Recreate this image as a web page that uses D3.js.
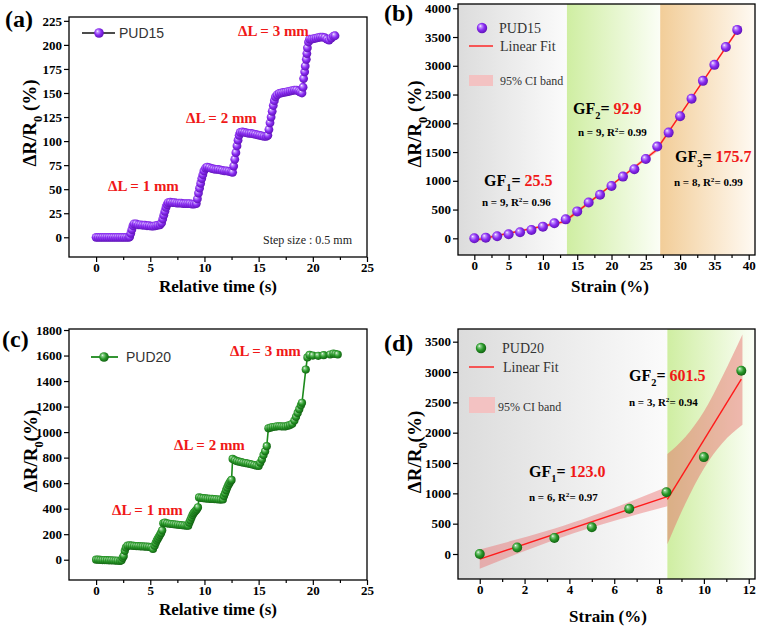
<!DOCTYPE html>
<html><head><meta charset="utf-8">
<script src="https://cdn.jsdelivr.net/npm/d3@7"></script>
<style>body{margin:0;background:#fff}svg{display:block}</style>
</head><body>
<svg id="chart" width="764" height="628"></svg>
<script>
// ---------------- DATA ----------------
// (a) PUD15 step response
const aTime = [0,0.2,0.4,0.6,0.8,1.0,1.2,1.4,1.6,1.8,2.0,2.2,2.4,2.6,2.8,3.0,3.1,
 3.2,3.3,3.4,3.5,
 3.7,3.9,4.1,4.3,4.5,4.7,4.9,5.1,5.3,5.5,5.7,5.9,
 6.05,6.15,6.25,6.35,6.45,6.55,6.65,
 6.85,7.05,7.25,7.45,7.65,7.85,8.05,8.25,8.45,8.65,8.85,9.05,9.25,
 9.35,9.45,9.55,9.65,9.75,9.85,9.95,10.1,10.25,
 10.45,10.65,10.85,11.05,11.25,11.45,11.65,11.85,12.05,12.25,12.45,12.6,
 12.7,12.8,12.9,13.0,13.1,13.2,13.3,
 13.5,13.7,13.9,14.1,14.3,14.5,14.7,14.9,15.1,15.3,15.5,15.7,15.85,
 15.95,16.05,16.15,16.25,16.35,16.45,16.55,16.7,
 16.9,17.1,17.3,17.5,17.7,17.9,18.1,18.3,18.5,18.7,18.85,19.0,
 19.1,19.15,19.25,19.3,19.4,19.45,19.5,19.6,19.7,
 19.9,20.1,20.3,20.5,20.7,20.9,21.1,21.3,21.5,21.7,21.9,22.05];
const aValue = [0,0,0,0,0,0,0,0,0,0,0,0,0,0,0,0,0.5,
 4,8,12,14,
 14,13,13,12.5,12.5,12,12,11.5,11.5,12,12.5,13,
 15,19,23,27,31,34,36,
 36.5,36,36,35.5,35.5,35.5,35,35,35,35,34.5,34.5,35,
 40,46,51,56,61,65,69,72,73,
 72.5,71.5,71,70.5,70.5,70,69.5,69,69,68.5,68,67.5,
 74,81,88,95,101,106,109,
 109.5,109,108.5,108,108,107.5,107,106.5,106,105.5,105,105,106,
 112,119,125,131,137,142,146,148,
 149.5,150,150.5,151,151.5,152,152.5,153,153,152,151,150,
 156,165,172,178,185,191,197,203,206,
 206,206.5,207,207.5,208,208,207.5,206,205,207,209,209.5];

// (c) PUD20 step response
const cTime = [0,0.2,0.4,0.6,0.8,1.0,1.2,1.4,1.6,1.8,2.0,2.2,2.35,
 2.45,2.55,2.65,2.75,
 2.9,3.1,3.3,3.5,3.7,3.9,4.1,4.3,4.5,4.7,4.9,5.1,5.25,
 5.4,5.5,5.6,5.7,5.8,5.9,6.0,6.1,6.2,
 6.35,6.55,6.75,6.95,7.15,7.35,7.55,7.75,7.95,8.15,8.35,8.5,
 8.6,8.7,8.8,8.9,9.0,9.1,9.2,9.3,9.4,
 9.5,9.7,9.9,10.1,10.3,10.5,10.7,10.9,11.1,11.3,11.5,11.7,
 11.8,11.9,12.0,12.1,12.2,12.3,12.4,12.5,
 12.6,12.8,13.0,13.2,13.4,13.6,13.8,14.0,14.2,14.4,14.6,14.8,15.0,
 15.15,15.3,15.45,15.6,15.75,
 15.9,16.1,16.3,16.5,16.7,16.9,17.1,17.3,17.5,17.7,17.9,18.1,
 18.3,18.45,18.6,18.75,18.9,19.0,
 19.35,19.5,19.7,
 20.0,20.5,21.0,21.6,21.9,22.1,22.3];
const cValue = [0,0,-2,-3,-3,-4,-5,-5,-6,-7,-8,-10,-5,
 15,30,70,95,
 110,112,110,108,107,106,105,104,103,102,100,97,84,
 110,130,150,165,180,195,210,230,285,
 290,285,282,280,278,276,274,272,270,268,266,266,
 290,310,330,350,365,375,385,395,410,
 488,484,482,480,478,477,476,475,474,472,471,472,
 500,520,545,565,585,600,615,625,
 790,780,772,768,764,760,757,754,750,746,742,738,735,
 760,785,820,850,890,
 1030,1035,1040,1042,1045,1046,1045,1044,1045,1050,1055,1065,
 1090,1120,1150,1180,1210,1230,
 1490,1585,1605,
 1600,1598,1603,1608,1615,1612,1608];

// (b) PUD15 strain response
const bStrain = [0,1.67,3.33,5,6.67,8.33,10,11.67,13.33,15,16.67,18.33,20,21.67,23.33,25,26.67,28.33,30,31.67,33.33,35,36.67,38.33];
const bValue  = [0,12,35,70,104,145,203,261,330,468,622,756,910,1073,1202,1378,1595,1838,2122,2428,2738,3016,3325,3624];
const bSegments = [[0,8],[8,16],[16,23]];      // index ranges of each linear fit
const bTcrit = [2.365, 2.365, 2.447];           // t(0.975, n-2)
const bRegionEdges = [13.5, 27.1];

// (d) PUD20 strain response
const dStrain = [0,1.67,3.33,5,6.67,8.33,10,11.67];
const dValue  = [0,108,265,440,745,1018,1597,3022];
const dSegments = [[0,5],[5,7]];
const dTcrit1 = 2.776;
const dRegionEdges = [8.37];
const dBand2X  = [8.37, 9.17, 10, 10.83, 11.72];
const dBand2Lo = [160, 830, 1410, 1830, 2130];
const dBand2Hi = [1650, 1930, 2350, 2930, 3620];

// ticks
const aXTicks = [0,5,10,15,20,25], aXMinor = [2.5,7.5,12.5,17.5,22.5];
const aYTicks = [0,25,50,75,100,125,150,175,200,225];
const cYTicks = [0,200,400,600,800,1000,1200,1400,1600,1800];
const bXTicks = [0,5,10,15,20,25,30,35,40], bXMinor = [2.5,7.5,12.5,17.5,22.5,27.5,32.5,37.5];
const bYTicks = [0,500,1000,1500,2000,2500,3000,3500,4000];
const dXTicks = [0,2,4,6,8,10,12], dXMinor = [1,3,5,7,9,11];
const dYTicks = [0,500,1000,1500,2000,2500,3000,3500];

// ---------------- DRAWING ----------------
const SERIF = "'Liberation Serif','Times New Roman',serif";
const SANS = "'Liberation Sans',Arial,sans-serif";
const RED = "#f01818";
const svg = d3.select("#chart");
const defs = svg.append("defs");

function sphereGrad(id, light, base, dark) {
  const g = defs.append("radialGradient").attr("id", id)
    .attr("cx","45%").attr("cy","45%").attr("r","60%").attr("fx","33%").attr("fy","30%");
  g.append("stop").attr("offset","0%").attr("stop-color","#ffffff");
  g.append("stop").attr("offset","18%").attr("stop-color",light);
  g.append("stop").attr("offset","55%").attr("stop-color",base);
  g.append("stop").attr("offset","100%").attr("stop-color",dark);
}
sphereGrad("purp", "#c79bff", "#8a2cf2", "#5a10b0");
sphereGrad("grn", "#8fd08f", "#2a9a2a", "#0d5a0d");

function linGrad(id, c0, c1) {
  const g = defs.append("linearGradient").attr("id", id)
    .attr("x1","0").attr("x2","1").attr("y1","0").attr("y2","0");
  g.append("stop").attr("offset","0").attr("stop-color",c0);
  g.append("stop").attr("offset","1").attr("stop-color",c1);
}
linGrad("gGray", "#dcdcdc", "#fbfbfb");
linGrad("gGreen", "#cfeea2", "#fbfef6");
linGrad("gOrange", "#f2cd98", "#fffaf3");

function makePanel(o) {
  const x = d3.scaleLinear().domain(o.xd).range([o.l, o.r]);
  const y = d3.scaleLinear().domain(o.yd).range([o.b, o.t]);
  const g = svg.append("g");
  const cid = "clip" + o.id;
  defs.append("clipPath").attr("id", cid).append("rect")
    .attr("x", o.l).attr("y", o.t).attr("width", o.r - o.l).attr("height", o.b - o.t);
  const bg = g.append("g").attr("clip-path", `url(#${cid})`);
  const marks = g.append("g").attr("clip-path", `url(#${cid})`);
  return {x, y, g, bg, marks, o};
}

function drawAxes(p, xt, xm, yt) {
  const {x, y, g, o} = p;
  const fmt = d3.format("d");
  const ax = g.append("g").attr("transform", `translate(0,${o.b})`)
    .call(d3.axisBottom(x).tickValues(xt).tickFormat(fmt).tickSize(5).tickPadding(1).tickSizeOuter(0));
  const axm = g.append("g").attr("transform", `translate(0,${o.b})`)
    .call(d3.axisBottom(x).tickValues(xm).tickSize(3).tickFormat("").tickSizeOuter(0));
  const ay = g.append("g").attr("transform", `translate(${o.l},0)`)
    .call(d3.axisLeft(y).tickValues(yt).tickFormat(fmt).tickSize(5).tickPadding(2).tickSizeOuter(0));
  [ax, axm, ay].forEach(a => {
    a.select(".domain").remove();
    a.selectAll("line").attr("stroke", "#000").attr("stroke-width", 1.2);
    a.selectAll("text").attr("font-family", SERIF).attr("font-weight", "bold")
      .attr("font-size", 13).attr("fill", "#000");
  });
  g.append("rect").attr("x", o.l).attr("y", o.t).attr("width", o.r - o.l).attr("height", o.b - o.t)
    .attr("fill", "none").attr("stroke", "#000").attr("stroke-width", 1.3);
}

function rich(g, x, y, parts, size, opts = {}) {
  const t = g.append("text").attr("x", x).attr("y", y)
    .attr("font-family", opts.family || SERIF).attr("font-weight", opts.weight || "bold")
    .attr("font-size", size).attr("fill", "#000");
  if (opts.anchor) t.attr("text-anchor", opts.anchor);
  if (opts.rotate) t.attr("transform", `rotate(-90,${x},${y})`);
  let shift = 0;
  parts.forEach(pt => {
    const ts = t.append("tspan").text(pt.t);
    let want = 0;
    if (pt.sub) want = size * 0.3;
    if (pt.sup) want = -size * 0.38;
    const dy = want - shift;
    if (dy !== 0) ts.attr("dy", dy);
    shift = want;
    if (pt.sub || pt.sup) ts.attr("font-size", size * 0.65);
    if (pt.fill) ts.attr("fill", pt.fill);
  });
  return t;
}

function yTitle(g, x, y, space) {
  rich(g, x, y, [{t:"\u0394R/R"},{t:"0",sub:true},{t: space ? " (%)" : "(%)"}], 19, {anchor:"middle", rotate:true});
}

function xTitle(g, x, y, label) {
  g.append("text").attr("x", x).attr("y", y).attr("text-anchor", "middle").text(label)
    .attr("font-family", SERIF).attr("font-weight", "bold").attr("font-size", 17);
}

function linfit(xs, ys) {
  const n = xs.length, mx = d3.mean(xs), my = d3.mean(ys);
  let sxx = 0, sxy = 0;
  xs.forEach((v, i) => { sxx += (v - mx) ** 2; sxy += (v - mx) * (ys[i] - my); });
  const slope = sxy / sxx, icpt = my - slope * mx;
  let sse = 0;
  xs.forEach((v, i) => { sse += (ys[i] - (icpt + slope * v)) ** 2; });
  const s = Math.sqrt(sse / Math.max(1, n - 2));
  return {n, mx, sxx, slope, icpt, s, f: v => icpt + slope * v};
}

// ===== Panel (a) =====
const pa = makePanel({id:"a", l:69, r:367, t:17, b:257, xd:[-2.5, 25], yd:[-20.5, 229]});
pa.marks.append("path").datum(aTime.map((t, i) => [t, aValue[i]]))
  .attr("d", d3.line().x(d => pa.x(d[0])).y(d => pa.y(d[1])))
  .attr("fill", "none").attr("stroke", "#111").attr("stroke-width", 1);
pa.marks.selectAll("circle").data(aTime.map((t, i) => [t, aValue[i]])).join("circle")
  .attr("cx", d => pa.x(d[0])).attr("cy", d => pa.y(d[1])).attr("r", 4.4).attr("fill", "url(#purp)");
drawAxes(pa, aXTicks, aXMinor, aYTicks);
// legend
pa.g.append("line").attr("x1", 82).attr("x2", 115).attr("y1", 33).attr("y2", 33).attr("stroke", "#111").attr("stroke-width", 1.5);
pa.g.append("circle").attr("cx", 99).attr("cy", 33).attr("r", 4.8).attr("fill", "url(#purp)");
pa.g.append("text").attr("x", 119).attr("y", 38).text("PUD15").attr("font-family", SANS).attr("font-size", 14).attr("fill", "#333");
[["\u0394L = 1 mm", 108, 191], ["\u0394L = 2 mm", 186, 123], ["\u0394L = 3 mm", 238, 36]].forEach(d => {
  pa.g.append("text").attr("x", d[1]).attr("y", d[2]).text(d[0]).attr("font-family", SERIF)
    .attr("font-weight", "bold").attr("font-size", 15).attr("fill", RED);
});
pa.g.append("text").attr("x", 263).attr("y", 244).text("Step size : 0.5 mm")
  .attr("font-family", SERIF).attr("font-size", 12).attr("fill", "#222");
xTitle(pa.g, 218, 292, "Relative time (s)");
yTitle(pa.g, 36, 123, true);
pa.g.append("text").attr("x", 5).attr("y", 27).text("(a)").attr("font-family", SERIF).attr("font-weight", "bold").attr("font-size", 24);

// ===== Panel (c) =====
const pc = makePanel({id:"c", l:69, r:367, t:329, b:580, xd:[-2.5, 25], yd:[-159, 1808]});
pc.marks.append("path").datum(cTime.map((t, i) => [t, cValue[i]]))
  .attr("d", d3.line().x(d => pc.x(d[0])).y(d => pc.y(d[1])))
  .attr("fill", "none").attr("stroke", "#1c8a1c").attr("stroke-width", 1.6);
pc.marks.selectAll("circle").data(cTime.map((t, i) => [t, cValue[i]])).join("circle")
  .attr("cx", d => pc.x(d[0])).attr("cy", d => pc.y(d[1])).attr("r", 4.1).attr("fill", "url(#grn)");
drawAxes(pc, aXTicks, aXMinor, cYTicks);
pc.g.append("line").attr("x1", 91).attr("x2", 118).attr("y1", 357).attr("y2", 357).attr("stroke", "#1c8a1c").attr("stroke-width", 1.8);
pc.g.append("circle").attr("cx", 104).attr("cy", 357).attr("r", 4.8).attr("fill", "url(#grn)");
pc.g.append("text").attr("x", 126).attr("y", 362).text("PUD20").attr("font-family", SANS).attr("font-size", 14).attr("fill", "#333");
[["\u0394L = 1 mm", 112, 515], ["\u0394L = 2 mm", 174, 450], ["\u0394L = 3 mm", 230, 356]].forEach(d => {
  pc.g.append("text").attr("x", d[1]).attr("y", d[2]).text(d[0]).attr("font-family", SERIF)
    .attr("font-weight", "bold").attr("font-size", 15).attr("fill", RED);
});
xTitle(pc.g, 218, 615, "Relative time (s)");
yTitle(pc.g, 37, 451, false);
pc.g.append("text").attr("x", 2).attr("y", 347).text("(c)").attr("font-family", SERIF).attr("font-weight", "bold").attr("font-size", 24);

// ===== Panel (b) =====
const pb = makePanel({id:"b", l:458, r:755, t:4, b:255, xd:[-2.38, 40.92], yd:[-290, 4074]});
{
  const xd = pb.x.domain();
  const edges = [xd[0], ...bRegionEdges, xd[1]];
  ["gGray", "gGreen", "gOrange"].forEach((gid, i) => {
    pb.bg.append("rect").attr("x", pb.x(edges[i])).attr("y", pb.o.t)
      .attr("width", pb.x(edges[i + 1]) - pb.x(edges[i])).attr("height", pb.o.b - pb.o.t)
      .attr("fill", `url(#${gid})`);
  });
  bSegments.forEach((sg, k) => {
    const xs = bStrain.slice(sg[0], sg[1] + 1), ys = bValue.slice(sg[0], sg[1] + 1);
    const fit = linfit(xs, ys);
    const samp = d3.range(0, 21).map(i => xs[0] + (xs[xs.length - 1] - xs[0]) * i / 20);
    const half = v => bTcrit[k] * fit.s * Math.sqrt(1 / fit.n + (v - fit.mx) ** 2 / fit.sxx);
    pb.bg.append("path").datum(samp)
      .attr("d", d3.area().x(v => pb.x(v)).y0(v => pb.y(fit.f(v) - half(v))).y1(v => pb.y(fit.f(v) + half(v))))
      .attr("fill", "rgba(236,110,110,0.4)");
    pb.marks.append("line").attr("x1", pb.x(xs[0])).attr("x2", pb.x(xs[xs.length - 1]))
      .attr("y1", pb.y(fit.f(xs[0]))).attr("y2", pb.y(fit.f(xs[xs.length - 1])))
      .attr("stroke", "#ff1a1a").attr("stroke-width", 1.4);
  });
  pb.marks.selectAll("circle").data(bStrain.map((s, i) => [s, bValue[i]])).join("circle")
    .attr("cx", d => pb.x(d[0])).attr("cy", d => pb.y(d[1])).attr("r", 5).attr("fill", "url(#purp)");
}
drawAxes(pb, bXTicks, bXMinor, bYTicks);
pb.g.append("circle").attr("cx", 482).attr("cy", 28).attr("r", 5.2).attr("fill", "url(#purp)");
pb.g.append("text").attr("x", 499).attr("y", 33).text("PUD15").attr("font-family", SERIF).attr("font-size", 14).attr("fill", "#333");
pb.g.append("line").attr("x1", 469).attr("x2", 493).attr("y1", 46).attr("y2", 46).attr("stroke", "#ff1a1a").attr("stroke-width", 1.4);
pb.g.append("text").attr("x", 500).attr("y", 51).text("Linear Fit").attr("font-family", SERIF).attr("font-size", 14).attr("fill", "#333");
pb.g.append("rect").attr("x", 469).attr("y", 75).attr("width", 24).attr("height", 11).attr("fill", "#f3c2c2");
pb.g.append("text").attr("x", 500).attr("y", 85).text("95% CI band").attr("font-family", SERIF).attr("font-size", 12).attr("fill", "#333");
rich(pb.g, 484, 186, [{t:"GF"},{t:"1",sub:true},{t:"= "},{t:"25.5",fill:RED}], 16);
rich(pb.g, 482, 206, [{t:"n = 9, R"},{t:"2",sup:true},{t:"= 0.96"}], 11);
rich(pb.g, 573, 114, [{t:"GF"},{t:"2",sub:true},{t:"= "},{t:"92.9",fill:RED}], 16);
rich(pb.g, 578, 136, [{t:"n = 9, R"},{t:"2",sup:true},{t:"= 0.99"}], 11);
rich(pb.g, 675, 162, [{t:"GF"},{t:"3",sub:true},{t:"= "},{t:"175.7",fill:RED}], 16);
rich(pb.g, 674, 186, [{t:"n = 8, R"},{t:"2",sup:true},{t:"= 0.99"}], 11);
xTitle(pb.g, 610, 292, "Strain (%)");
yTitle(pb.g, 421, 124, true);
pb.g.append("text").attr("x", 384).attr("y", 21).text("(b)").attr("font-family", SERIF).attr("font-weight", "bold").attr("font-size", 24);

// ===== Panel (d) =====
const pd = makePanel({id:"d", l:458, r:755, t:329, b:579, xd:[-0.97, 12.28], yd:[-412, 3709]});
{
  const xd = pd.x.domain();
  const edges = [xd[0], ...dRegionEdges, xd[1]];
  ["gGray", "gGreen"].forEach((gid, i) => {
    pd.bg.append("rect").attr("x", pd.x(edges[i])).attr("y", pd.o.t)
      .attr("width", pd.x(edges[i + 1]) - pd.x(edges[i])).attr("height", pd.o.b - pd.o.t)
      .attr("fill", `url(#${gid})`);
  });
  // segment 1 fit + CI
  const s1 = dSegments[0];
  const xs1 = dStrain.slice(s1[0], s1[1] + 1), ys1 = dValue.slice(s1[0], s1[1] + 1);
  const f1 = linfit(xs1, ys1);
  const samp1 = d3.range(0, 21).map(i => xs1[0] + (dRegionEdges[0] - xs1[0]) * i / 20);
  const half1 = v => dTcrit1 * f1.s * Math.sqrt(1 / f1.n + (v - f1.mx) ** 2 / f1.sxx);
  pd.bg.append("path").datum(samp1)
    .attr("d", d3.area().x(v => pd.x(v)).y0(v => pd.y(f1.f(v) - half1(v))).y1(v => pd.y(f1.f(v) + half1(v))))
    .attr("fill", "rgba(236,110,110,0.45)");
  // segment 2 band (read values)
  pd.bg.append("path").datum(dBand2X.map((v, i) => [v, dBand2Lo[i], dBand2Hi[i]]))
    .attr("d", d3.area().curve(d3.curveMonotoneX).x(d => pd.x(d[0])).y0(d => pd.y(d[1])).y1(d => pd.y(d[2])))
    .attr("fill", "rgba(230,100,100,0.45)");
  const s2 = dSegments[1];
  const xs2 = dStrain.slice(s2[0], s2[1] + 1), ys2 = dValue.slice(s2[0], s2[1] + 1);
  const f2 = linfit(xs2, ys2);
  pd.marks.append("line").attr("x1", pd.x(xs1[0])).attr("x2", pd.x(dRegionEdges[0]))
    .attr("y1", pd.y(f1.f(xs1[0]))).attr("y2", pd.y(f1.f(dRegionEdges[0])))
    .attr("stroke", "#ff1a1a").attr("stroke-width", 1.4);
  pd.marks.append("line").attr("x1", pd.x(dRegionEdges[0])).attr("x2", pd.x(xs2[xs2.length - 1]))
    .attr("y1", pd.y(f2.f(dRegionEdges[0]))).attr("y2", pd.y(f2.f(xs2[xs2.length - 1])))
    .attr("stroke", "#ff1a1a").attr("stroke-width", 1.4);
  pd.marks.selectAll("circle").data(dStrain.map((s, i) => [s, dValue[i]])).join("circle")
    .attr("cx", d => pd.x(d[0])).attr("cy", d => pd.y(d[1])).attr("r", 5).attr("fill", "url(#grn)");
}
drawAxes(pd, dXTicks, dXMinor, dYTicks);
pd.g.append("circle").attr("cx", 481).attr("cy", 348).attr("r", 5.2).attr("fill", "url(#grn)");
pd.g.append("text").attr("x", 502).attr("y", 353).text("PUD20").attr("font-family", SERIF).attr("font-size", 14).attr("fill", "#333");
pd.g.append("line").attr("x1", 469).attr("x2", 494).attr("y1", 367).attr("y2", 367).attr("stroke", "#ff1a1a").attr("stroke-width", 1.4);
pd.g.append("text").attr("x", 503).attr("y", 372).text("Linear Fit").attr("font-family", SERIF).attr("font-size", 14).attr("fill", "#333");
pd.g.append("rect").attr("x", 469).attr("y", 397).attr("width", 26).attr("height", 16).attr("fill", "#f3c2c2");
pd.g.append("text").attr("x", 498).attr("y", 411).text("95% CI band").attr("font-family", SERIF).attr("font-size", 12).attr("fill", "#333");
rich(pd.g, 629, 381, [{t:"GF"},{t:"2",sub:true},{t:"= "},{t:"601.5",fill:RED}], 16);
rich(pd.g, 629, 406, [{t:"n = 3, R"},{t:"2",sup:true},{t:"= 0.94"}], 11);
rich(pd.g, 529, 477, [{t:"GF"},{t:"1",sub:true},{t:"= "},{t:"123.0",fill:RED}], 16);
rich(pd.g, 529, 501, [{t:"n = 6, R"},{t:"2",sup:true},{t:"= 0.97"}], 11);
xTitle(pd.g, 608, 622, "Strain (%)");
yTitle(pd.g, 421, 452, false);
pd.g.append("text").attr("x", 384).attr("y", 351).text("(d)").attr("font-family", SERIF).attr("font-weight", "bold").attr("font-size", 24);
</script>
</body></html>
